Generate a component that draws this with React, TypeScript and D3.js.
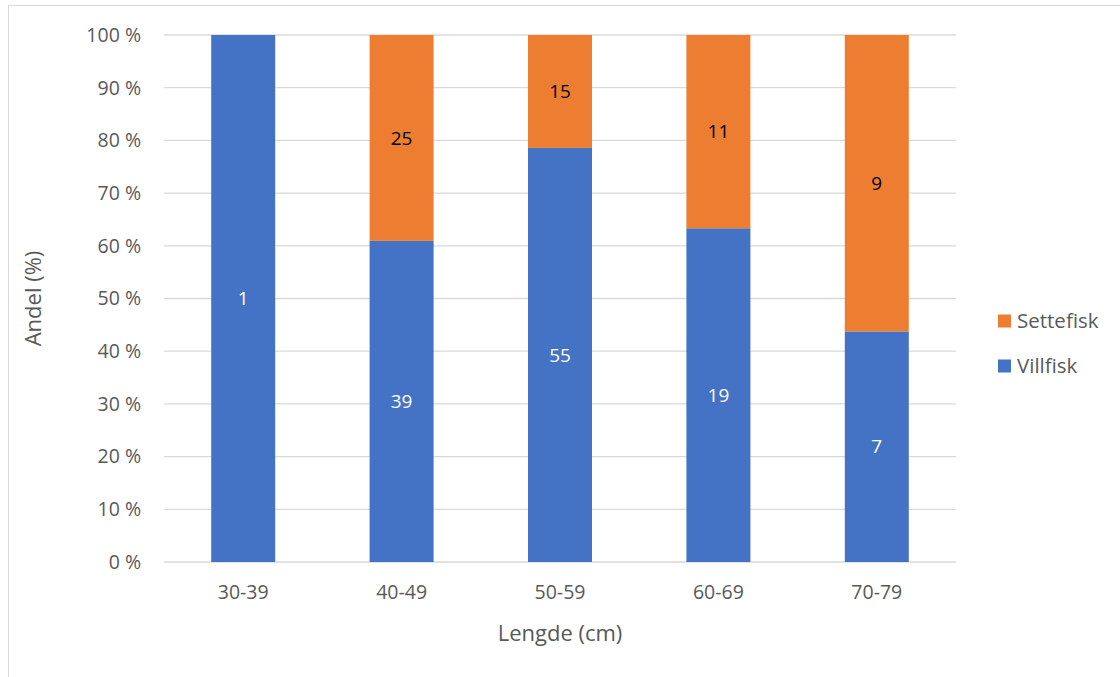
import React from "react";
import * as d3 from "d3";

const categories = ["30-39", "40-49", "50-59", "60-69", "70-79"];
const villfisk = [1, 39, 55, 19, 7];
const settefisk = [0, 25, 15, 11, 9];
const seriesNames = ["Villfisk", "Settefisk"];
const yTicks = [0, 10, 20, 30, 40, 50, 60, 70, 80, 90, 100];

const W = 1120, H = 677;
const plot = { left: 164, right: 956, top: 35, bottom: 562 };
const colors: Record<string, string> = { Villfisk: "#4472C4", Settefisk: "#ED7D31" };
const font = "'Open Sans', 'Noto Sans', sans-serif";
const textColor = "#595959";

export default function App() {
  const x = d3.scaleBand<string>().domain(categories).range([plot.left, plot.right]).paddingInner(0.596).paddingOuter(0.298);
  const y = d3.scaleLinear().domain([0, 100]).range([plot.bottom, plot.top]);
  const rows = categories.map((c, i) => ({ cat: c, Villfisk: villfisk[i], Settefisk: settefisk[i] }));
  const totals = rows.map(r => r.Villfisk + r.Settefisk);
  const pct = rows.map((r, i) => ({ cat: r.cat, Villfisk: (r.Villfisk / totals[i]) * 100, Settefisk: (r.Settefisk / totals[i]) * 100 }));
  const stack = d3.stack<any>().keys(seriesNames)(pct);

  return (
    <svg width={W} height={H} style={{ position: "absolute", left: 0, top: 0, background: "#fff" }} fontFamily={font}>
      <rect x={8.5} y={5.5} width={W + 10} height={H + 10} fill="none" stroke="#D9D9D9" strokeWidth={1} />
      {yTicks.map(t => (
        <g key={t}>
          <line x1={plot.left} x2={plot.right} y1={y(t)} y2={y(t)} stroke="#D9D9D9" strokeWidth={1.3} />
          <text x={141} y={y(t)} dy="0.35em" textAnchor="end" fontSize={19.5} fill={textColor}>{t} %</text>
        </g>
      ))}
      {stack.map(s => (
        <g key={s.key}>
          {s.map((d, i) => {
            const v = s.key === "Villfisk" ? villfisk[i] : settefisk[i];
            if (v === 0) return null;
            const x0 = x(categories[i])!;
            const y0 = y(d[1]), y1 = y(d[0]);
            return (
              <g key={i}>
                <rect x={x0} y={y0} width={x.bandwidth()} height={y1 - y0} fill={colors[s.key]} />
                <text x={x0 + x.bandwidth() / 2} y={(y0 + y1) / 2} dy="0.35em" textAnchor="middle" fontSize={19}
                  fill={s.key === "Villfisk" ? "#ffffff" : "#000000"}>{v}</text>
              </g>
            );
          })}
        </g>
      ))}
      {categories.map(c => (
        <text key={c} x={x(c)! + x.bandwidth() / 2} y={592} dy="0.35em" textAnchor="middle" fontSize={19.5} fill={textColor}>{c}</text>
      ))}
      <text x={(plot.left + plot.right) / 2} y={633} dy="0.35em" textAnchor="middle" fontSize={22} fill={textColor}>Lengde (cm)</text>
      <text transform={`translate(33,${(plot.top + plot.bottom) / 2}) rotate(-90)`} dy="0.35em" textAnchor="middle" fontSize={22} fill={textColor}>Andel (%)</text>
      {["Settefisk", "Villfisk"].map((n, i) => (
        <g key={n} transform={`translate(998,${321 + i * 45})`}>
          <rect x={0} y={-6.5} width={13} height={13} fill={colors[n]} />
          <text x={19} y={0} dy="0.35em" fontSize={20.5} fill={textColor}>{n}</text>
        </g>
      ))}
    </svg>
  );
}
